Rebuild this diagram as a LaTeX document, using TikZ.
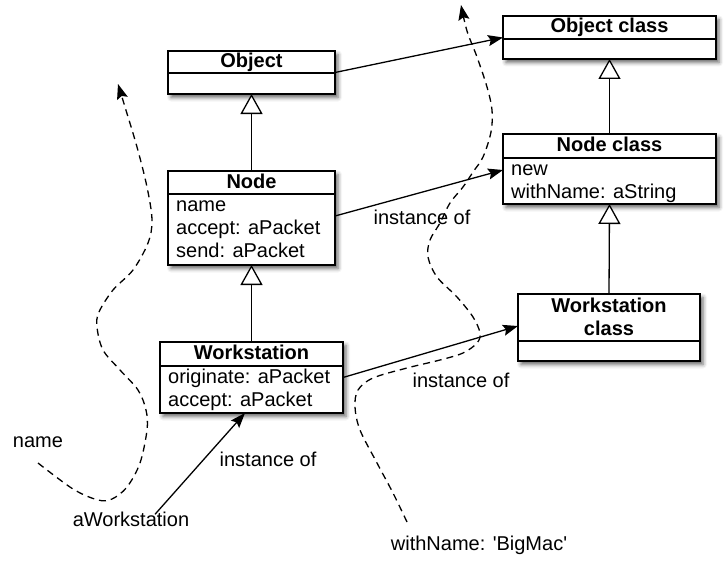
\documentclass[tikz,border=0pt]{standalone}
\usepackage{fontspec}
\setmainfont{Liberation Sans}
\newfontfamily\plainsans{Liberation Sans}
\usetikzlibrary{arrows.meta,shadows.blur,calc}
\begin{document}
\begin{tikzpicture}[x=1pt,y=-1pt,
  font=\fontsize{20}{23}\selectfont,
  umlbox/.style={draw, line width=1.8pt, fill=white, inner sep=0pt, outer sep=0pt,
    anchor=north west,
    blur shadow={shadow xshift=3pt, shadow yshift=-3.5pt, shadow blur radius=4pt, shadow opacity=60}},
  boxtitle/.style={font=\fontsize{20}{23}\selectfont\bfseries, anchor=base, inner sep=0pt},
  member/.style={anchor=base west, inner sep=0pt},
  lbl/.style={anchor=base, inner sep=0pt},
  divider/.style={line width=1.4pt},
  inherit/.style={line width=1.3pt, -{Triangle[open, length=20pt, width=22pt, fill=white]}},
  inst/.style={line width=1.3pt, -{Stealth[length=15pt, width=11pt, inset=2.5pt]}},
  wiggle/.style={line width=1.3pt, dash pattern=on 7pt off 5pt, -{Stealth[length=15pt, width=11pt, inset=2.5pt]}}
]
\useasboundingbox (0,0) rectangle (727,575);

% ---- boxes
\node[umlbox, minimum width=167pt, minimum height=43pt] (obj) at (168,51) {};
\node[umlbox, minimum width=167pt, minimum height=94pt] (nd) at (168,171) {};
\node[umlbox, minimum width=183pt, minimum height=71pt] (ws) at (160,342) {};
\node[umlbox, minimum width=213pt, minimum height=43pt] (objc) at (503,16) {};
\node[umlbox, minimum width=213pt, minimum height=70pt] (ndc) at (503,134) {};
\node[umlbox, minimum width=182pt, minimum height=67pt] (wsc) at (518,294) {};

% dividers
\draw[divider] ($(obj.north west)+(0,22)$) -- ($(obj.north east)+(0,22)$);
\draw[divider] ($(nd.north west)+(0,23)$) -- ($(nd.north east)+(0,23)$);
\draw[divider] ($(ws.north west)+(0,24)$) -- ($(ws.north east)+(0,24)$);
\draw[divider] ($(objc.north west)+(0,23)$) -- ($(objc.north east)+(0,23)$);
\draw[divider] ($(ndc.north west)+(0,24)$) -- ($(ndc.north east)+(0,24)$);
\draw[divider] ($(wsc.north west)+(0,47)$) -- ($(wsc.north east)+(0,47)$);

% titles and members
\node[boxtitle] (objT) at (251.5,67.5) {Object};
\node[boxtitle] (ndT) at (251.5,188.5) {Node};
\node[member] (nd1) at (176,211.5) {name};
\node[member] (nd2) at (176,234.5) {accept: aPacket};
\node[member] (nd3) at (176,257.5) {send: aPacket};
\node[boxtitle] (wsT) at (251.5,359.5) {Workstation};
\node[member] (ws1) at (168,383) {originate: aPacket};
\node[member] (ws2) at (168,406) {accept: aPacket};
\node[boxtitle] (objcT) at (609.5,32.5) {Object class};
\node[boxtitle] (ndcT) at (609.5,151.5) {Node class};
\node[member] (ndc1) at (511,175) {new};
\node[member] (ndc2) at (511,198) {withName: aString};
\node[boxtitle] (wscT1) at (609,312) {Workstation};
\node[boxtitle] (wscT2) at (609,335) {class};

% ---- free labels
\node[lbl] (iof1) at (422,224) {instance of};
\node[lbl] (iof2) at (461,387) {instance of};
\node[lbl] (iof3) at (268,466) {instance of};
\node[lbl] (nm) at (38,447) {name};
\node[lbl] (aws) at (131,526) {aWorkstation};
\node[lbl] (wn) at (479,550) {\plainsans withName: 'BigMac'};

% ---- inheritance
\draw[inherit] (nd.north) -- (obj.south);
\draw[inherit] (ws.north) -- (nd.south);
\draw[inherit] (ndc.north) -- (objc.south);
\draw[inherit] (wsc.north) -- (ndc.south);

% ---- instance-of arrows
\draw[inst] (obj.east) -- (objc.west);
\draw[inst] ([yshift=2pt]nd.east) -- ([yshift=-1pt]ndc.west);
\draw[inst] (ws.east) -- ([yshift=1.5pt]wsc.west);
\draw[inst] ([xshift=24pt,yshift=-3pt]aws.north) -- ([xshift=-6.5pt]ws.south);

% ---- dashed message paths
\draw[wiggle] plot[smooth, tension=0.55] coordinates {
  (38,463) (73,489) (98,500) (112,499) (127,487) (140,463) (147,430)
  (146,410) (138,390) (120,370) (103,350) (97,327) (99,312) (113,290)
  (133,270) (148,243) (152,220) (147,187) (137,147) (125,107) (118,84)};
\draw[wiggle] plot[smooth, tension=0.55] coordinates {
  (407,522) (393,493) (377,463) (360,430) (355,407) (358,390) (373,378)
  (407,368) (440,360) (463,353) (477,343) (480,333) (473,317) (457,297)
  (437,277) (428,257) (430,240) (440,223) (450,203) (463,187) (473,172)
  (483,157) (491,132) (492,110) (487,87) (477,57) (467,31) (461,5)};
\end{tikzpicture}
\end{document}
